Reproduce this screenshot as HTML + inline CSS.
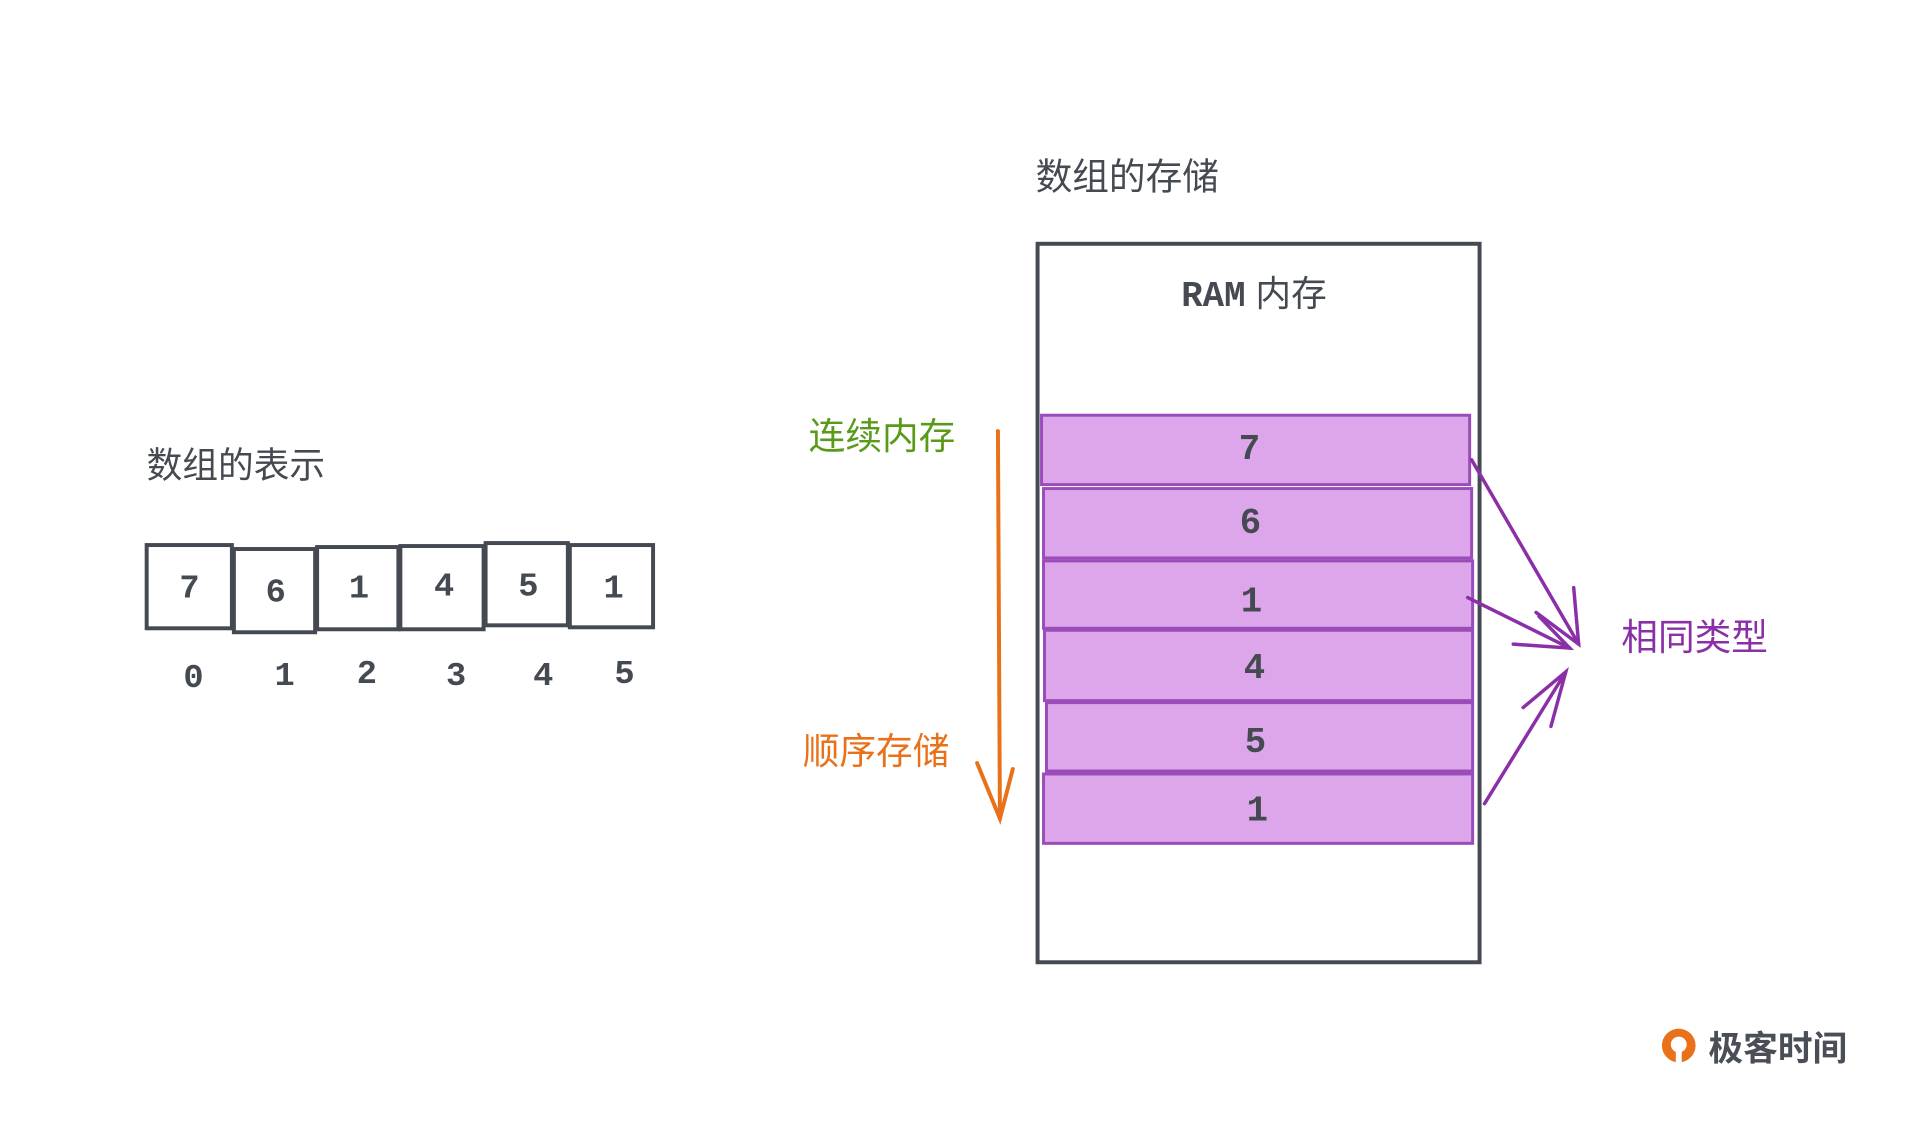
<!DOCTYPE html>
<html><head><meta charset="utf-8"><style>
body{margin:0;width:1920px;height:1145px;background:#fff;overflow:hidden;position:relative;font-family:"Liberation Sans","Noto Sans CJK SC",sans-serif}
#w{position:absolute;left:0;top:0;width:1920px;height:1145px;transform:scale(0.991);transform-origin:0 0}
.t{position:absolute;white-space:nowrap;line-height:1}
.m{font-family:"Liberation Mono","DejaVu Sans Mono",monospace;font-weight:bold;color:#454a52}
</style></head><body><div id="w">
<svg width="1920" height="1145" style="position:absolute;left:0;top:0">
<g fill="none" stroke="#454a52" stroke-width="4">
<rect x="148" y="550" width="86" height="84"/>
<rect x="236" y="554" width="82" height="84"/>
<rect x="320" y="552" width="82" height="83"/>
<rect x="404" y="551" width="84" height="84"/>
<rect x="490" y="548" width="83" height="83"/>
<rect x="575" y="550" width="84" height="83"/>
<rect x="1047" y="246" width="446" height="725"/>
</g>
<g fill="#dea6ea" stroke="#9a4cb8" stroke-width="3">
<rect x="1051" y="419" width="432" height="70"/>
<rect x="1053" y="493" width="432" height="70"/>
<rect x="1053" y="566" width="433" height="68"/>
<rect x="1054" y="636" width="432" height="71"/>
<rect x="1056" y="709" width="430" height="69"/>
<rect x="1053" y="781" width="433" height="70"/>
</g>
<g stroke="#e8711a" stroke-width="4" fill="none" stroke-linecap="round">
<line x1="1007" y1="435" x2="1009" y2="826"/>
<polyline points="986,770 1009,826 1022,776"/>
</g>
<g stroke="#8b2fa8" stroke-width="3.5" fill="none" stroke-linecap="round">
<line x1="1485" y1="464" x2="1593" y2="650"/>
<polyline points="1550,618 1593,650 1588,593"/>
<line x1="1481" y1="603" x2="1584" y2="654"/>
<polyline points="1527,650 1584,654 1553,622"/>
<line x1="1498" y1="811" x2="1580" y2="678"/>
<polyline points="1537,714 1580,678 1565,733"/>
</g>
<g transform="translate(1694,1058)">
<circle cx="0" cy="-3" r="17" fill="#e8711a"/>
<circle cx="0" cy="-4" r="8" fill="#fff"/>
<rect x="-3" y="-4" width="6" height="20" fill="#fff"/>
</g>
</svg>
<div class="t" style="left:148px;top:452px;font-size:36px;color:#454a52">数组的表示</div>
<div class="t m" style="left:181px;top:578px;font-size:34px">7</div>
<div class="t m" style="left:268px;top:582px;font-size:34px">6</div>
<div class="t m" style="left:352px;top:578px;font-size:34px">1</div>
<div class="t m" style="left:438px;top:576px;font-size:34px">4</div>
<div class="t m" style="left:523px;top:576px;font-size:34px">5</div>
<div class="t m" style="left:609px;top:578px;font-size:34px">1</div>
<div class="t m" style="left:185px;top:668px;font-size:34px">0</div>
<div class="t m" style="left:277px;top:666px;font-size:34px">1</div>
<div class="t m" style="left:360px;top:664px;font-size:34px">2</div>
<div class="t m" style="left:450px;top:666px;font-size:34px">3</div>
<div class="t m" style="left:538px;top:666px;font-size:34px">4</div>
<div class="t m" style="left:620px;top:664px;font-size:34px">5</div>
<div class="t" style="left:1045px;top:160px;font-size:37px;color:#454a52">数组的存储</div>
<div class="t" style="left:1192px;top:279px;font-size:36px;color:#454a52"><span class="m">RAM</span> 内存</div>
<div class="t m" style="left:1250px;top:436px;font-size:36px">7</div>
<div class="t m" style="left:1251px;top:511px;font-size:36px">6</div>
<div class="t m" style="left:1252px;top:590px;font-size:36px">1</div>
<div class="t m" style="left:1255px;top:657px;font-size:36px">4</div>
<div class="t m" style="left:1256px;top:732px;font-size:36px">5</div>
<div class="t m" style="left:1258px;top:801px;font-size:36px">1</div>
<div class="t" style="left:816px;top:422px;font-size:37px;color:#5a9a1a">连续内存</div>
<div class="t" style="left:810px;top:740px;font-size:37px;color:#e8711a">顺序存储</div>
<div class="t" style="left:1636px;top:625px;font-size:37px;color:#8b2fa8">相同类型</div>
<div class="t" style="left:1724px;top:1041px;font-size:35px;color:#4a4f57;font-weight:bold">极客时间</div>
</div></body></html>
